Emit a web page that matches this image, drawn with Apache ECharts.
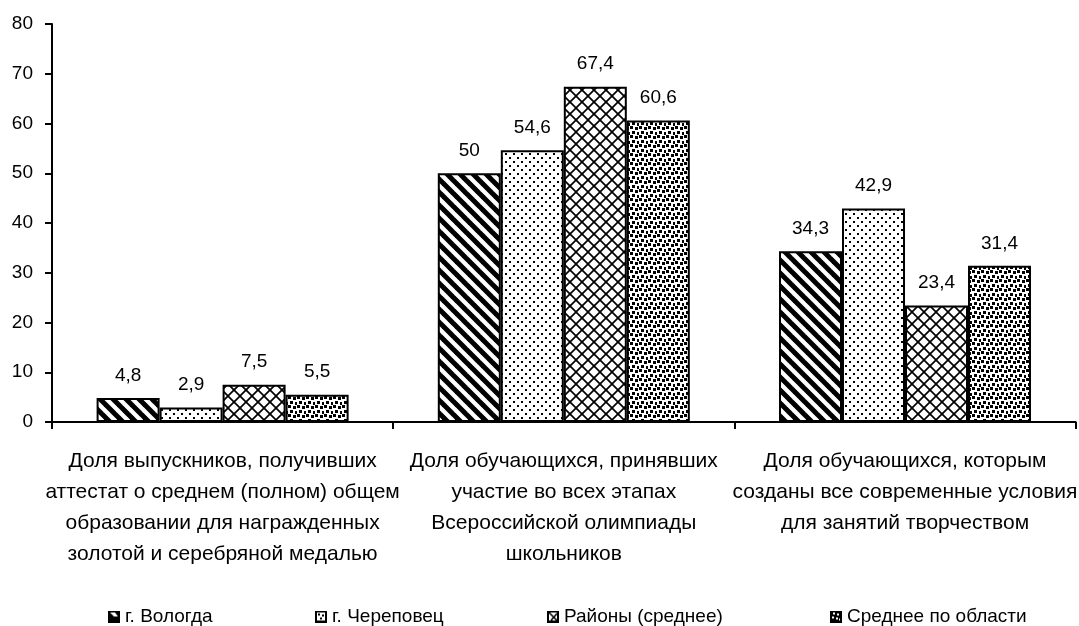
<!DOCTYPE html>
<html><head><meta charset="utf-8">
<script src="https://cdn.jsdelivr.net/npm/echarts@6/dist/echarts.min.js"></script>
<style>html,body{margin:0;padding:0;background:#fff}#c{width:1079px;height:626px}</style>
</head><body><div id="c"></div>
<script>
const categories = [
  "Доля выпускников, получивших\nаттестат о среднем (полном) общем\nобразовании для награжденных\nзолотой и серебряной медалью",
  "Доля обучающихся, принявших\nучастие во всех этапах\nВсероссийской олимпиады\nшкольников",
  "Доля обучающихся, которым\nсозданы все современные условия\nдля занятий творчеством"
];
const seriesNames = ["г. Вологда", "г. Череповец", "Районы (среднее)", "Среднее по области"];
const vologda = [4.8, 50, 34.3];
const cherepovets = [2.9, 54.6, 42.9];
const rayony = [7.5, 67.4, 23.4];
const srednee = [5.5, 60.6, 31.4];
const yTicks = [0, 10, 20, 30, 40, 50, 60, 70, 80];

function tile(w, h, draw) {
  const c = document.createElement('canvas');
  c.width = w; c.height = h;
  const g = c.getContext('2d');
  g.fillStyle = '#fff'; g.fillRect(0, 0, w, h);
  g.fillStyle = '#000'; g.strokeStyle = '#000';
  draw(g, w, h);
  return c;
}
// thick diagonal stripes "\"
const pStripes = tile(13, 13, (g, w) => {
  g.lineWidth = 5;
  for (let k = -2; k <= 2; k++) {
    g.beginPath(); g.moveTo(k * w - 3, -3); g.lineTo(k * w + w + 3, w + 3); g.stroke();
  }
});
// staggered dots
const pDots = tile(8, 8, (g) => {
  g.fillRect(1, 1, 2, 2);
  g.fillRect(5, 5, 2, 2);
});
// diamond crosshatch
const pCross = tile(12, 12, (g) => {
  g.lineWidth = 1.7;
  for (let k = -1; k <= 1; k++) {
    g.beginPath(); g.moveTo(k * 12, 0); g.lineTo(k * 12 + 12, 12); g.stroke();
    g.beginPath(); g.moveTo(k * 12 + 12, 0); g.lineTo(k * 12, 12); g.stroke();
  }
});
// dense small squares
const pSquares = tile(9, 9, (g) => {
  g.fillRect(0, 0, 3, 3);
  g.fillRect(5, 1, 3, 3);
  g.fillRect(2, 5, 3, 3);
  g.fillRect(7, 6, 2, 3);
});
const patterns = [pStripes, pDots, pCross, pSquares];
const dataSets = [vologda, cherepovets, rayony, srednee];

// small legend icons (bold, as in the reference)
function iconURL(draw) {
  const c = document.createElement('canvas');
  c.width = 12; c.height = 12;
  const g = c.getContext('2d');
  g.fillStyle = '#fff'; g.fillRect(0, 0, 12, 12);
  g.fillStyle = '#000'; g.strokeStyle = '#000';
  draw(g);
  return 'image://' + c.toDataURL();
}
const icons = [
  iconURL(g => { g.fillRect(0, 0, 12, 12); g.fillStyle = '#fff';
    g.beginPath(); g.moveTo(2, 2); g.lineTo(7, 2); g.lineTo(10, 6); g.lineTo(6, 6); g.closePath(); g.fill(); }),
  iconURL(g => { g.fillRect(0, 0, 12, 12); g.fillStyle = '#fff'; g.fillRect(2, 2, 8, 8);
    g.fillStyle = '#000'; g.fillRect(3, 3, 2, 2); g.fillRect(7, 4, 2, 2); g.fillRect(5, 7, 2, 2); }),
  iconURL(g => { g.fillRect(0, 0, 12, 12); g.fillStyle = '#fff'; g.fillRect(2, 2, 8, 8);
    g.lineWidth = 1.5; g.beginPath(); g.moveTo(2, 2); g.lineTo(10, 10); g.moveTo(10, 3); g.lineTo(4, 10); g.stroke(); }),
  iconURL(g => { g.fillRect(0, 0, 12, 12); g.fillStyle = '#fff';
    g.fillRect(3, 2, 2, 2); g.fillRect(7, 3, 2, 2); g.fillRect(2, 6, 2, 2); g.fillRect(6, 7, 2, 2); g.fillRect(9, 8, 1, 2); })
];

const font = 'Liberation Sans, Arial, sans-serif';
const fmt = v => String(v).replace('.', ',');

const series = seriesNames.map((n, i) => ({
  name: n,
  type: 'bar',
  data: dataSets[i],
  barWidth: 63,
  barGap: '0%',
  itemStyle: { color: { image: patterns[i], repeat: 'repeat' }, borderColor: '#000', borderWidth: 2 },
  label: { show: true, position: 'top', distance: 13, color: '#000', fontFamily: font, fontSize: 19,
    formatter: p => fmt(p.value) },
  animation: false
}));

const legendLefts = [103, 310, 542, 825];
const legends = seriesNames.map((n, i) => ({
  data: [{ name: n, icon: icons[i] }], left: legendLefts[i], top: 602, itemWidth: 12, itemHeight: 12, itemGap: 0,
  textStyle: { color: '#000', fontFamily: font, fontSize: 19 }
}));

const chart = echarts.init(document.getElementById('c'), null, { renderer: 'canvas' });
chart.setOption({
  animation: false,
  backgroundColor: '#fff',
  legend: legends,
  grid: { left: 52, top: 24, height: 398, right: -5 },
  xAxis: {
    type: 'category', data: categories,
    axisLine: { lineStyle: { color: '#000', width: 2 } },
    axisTick: { show: true, length: 7, lineStyle: { color: '#000', width: 2 } },
    axisLabel: { color: '#000', fontFamily: font, fontSize: 21, lineHeight: 31, margin: 24, interval: 0 }
  },
  yAxis: {
    type: 'value', min: yTicks[0], max: yTicks[yTicks.length - 1], interval: 10,
    splitLine: { show: false },
    axisLine: { show: true, lineStyle: { color: '#000', width: 2 } },
    axisTick: { show: true, length: 7, lineStyle: { color: '#000', width: 2 } },
    axisLabel: { color: '#000', fontFamily: font, fontSize: 19, margin: 19 }
  },
  series: series
});
</script></body></html>
